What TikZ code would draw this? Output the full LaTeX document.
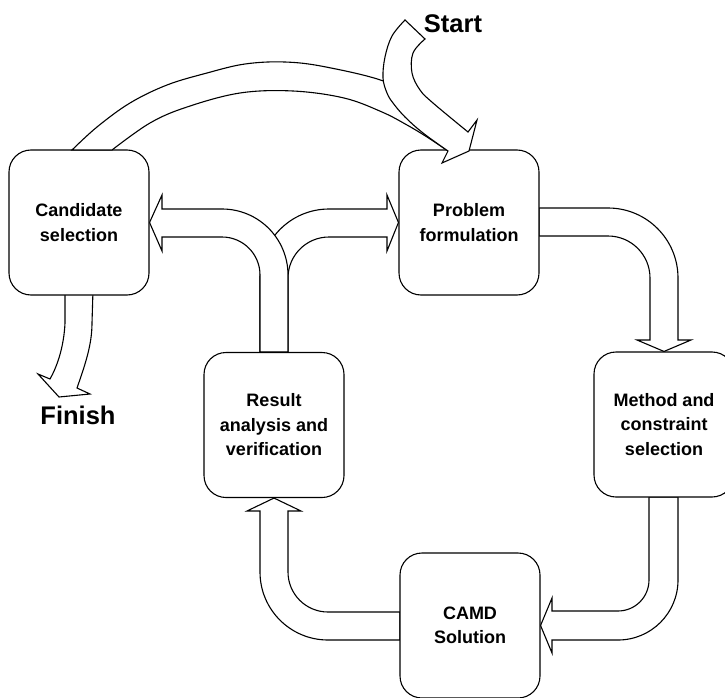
\documentclass[tikz,border=0pt]{standalone}
\usepackage{fontspec}
\setmainfont{Liberation Sans}
\usetikzlibrary{calc,backgrounds}
\tikzstyle{stage}    = [draw, fill=white, line width=1.1pt, rounded corners=22pt, minimum width=140pt, minimum height=145pt, inner sep=0pt, align=center, font=\fontsize{18pt}{24.5pt}\selectfont\bfseries]
\tikzstyle{fatarrow} = [draw, fill=white, line width=1.1pt]
\tikzstyle{tag}      = [font=\fontsize{25.5pt}{30pt}\selectfont\bfseries, inner sep=0pt]

\begin{document}
\begin{tikzpicture}[x=1pt, y=-1pt]
\useasboundingbox (0,0) rectangle (725,698);

% stages of the cycle
\node[stage] (cand) at (79,222.5)  {Candidate\\selection};
\node[stage] (prob) at (469,222.5) {Problem\\formulation};
\node[stage] (meth) at (664,424.5) {Method and\\constraint\\selection};
\node[stage] (res)  at (274,425)   {Result\\analysis and\\verification};
\node[stage] (camd) at (470,625.5) {CAMD\\Solution};

\node[tag, anchor=base] (start)  at (453,33)  {Start};
\node[tag, anchor=base] (finish) at (78,424)  {Finish};

\begin{scope}[on background layer]
	% problem -> method
	\draw[fatarrow] (539,208) -- (608,208) arc[start angle=270, end angle=360, radius=70] -- (678,340) -- (691,340)
		-- (meth.north) -- (637,340) -- (650,340) -- (650,278) arc[start angle=0, end angle=-90, radius=42] -- (539,236) -- cycle;
	% method -> camd
	\draw[fatarrow] (678,497) -- (678,580) arc[start angle=0, end angle=90, radius=60] -- (552,640) -- (552,653)
		-- (camd.east) -- (552,598) -- (552,611) -- (618,611) arc[start angle=90, end angle=0, radius=31] -- (649,497) -- cycle;
	% camd -> result
	\draw[fatarrow] (400,640) -- (328,640) arc[start angle=90, end angle=180, radius=68] -- (260,511) -- (247,511)
		-- (res.south) -- (301,511) -- (288,511) -- (288,572) arc[start angle=180, end angle=90, radius=40] -- (400,612) -- cycle;
	% result -> problem
	\draw[fatarrow] (260,352) -- (260,278) arc[start angle=180, end angle=270, radius=69] -- (387,209) -- (387,195)
		-- (prob.west) -- (387,251) -- (387,237) -- (329,237) arc[start angle=270, end angle=180, radius=41] -- (288,352) -- cycle;
	% result -> candidate
	\draw[fatarrow] (288,352) -- (288,275) arc[start angle=0, end angle=-90, radius=66] -- (162,209) -- (162,195)
		-- (cand.east) -- (162,251) -- (162,237) -- (222,237) arc[start angle=-90, end angle=0, radius=38] -- (260,352) -- cycle;
	% candidate -> finish
	\draw[fatarrow] (65,290) -- (65,323) .. controls (64,345) and (58,365) .. (50,379) -- (38,374) -- (59,397)
		-- (90,394) -- (77,388) .. controls (85,365) and (92,345) .. (92,323) -- (93,290) -- cycle;
\end{scope}

% candidate -> problem (back over the top)
\draw[fatarrow] plot[smooth, tension=0.6] coordinates {(72,150) (97,127) (130,103) (167,85) (207,73) (245,64) (285,62) (326,67) (386,82) (420,104) (448,151)}
	-- plot[smooth, tension=0.6] coordinates {(448,151) (427,137) (407,125) (382,112) (344,98) (293,91) (240,93) (187,107) (150,123) (112,150)} -- cycle;
% start -> problem
\draw[fatarrow] plot[smooth, tension=0.6] coordinates {(405,20) (392,36) (385,57) (383,78) (387,93) (393,103) (405,117) (423,133) (448,151)}
	-- (442,163) -- (469,151) -- (477,120) -- (468,132)
	-- plot[smooth, tension=0.6] coordinates {(468,132) (433,103) (420,90) (412,73) (413,53) (425,39)} -- cycle;
\end{tikzpicture}
\end{document}
